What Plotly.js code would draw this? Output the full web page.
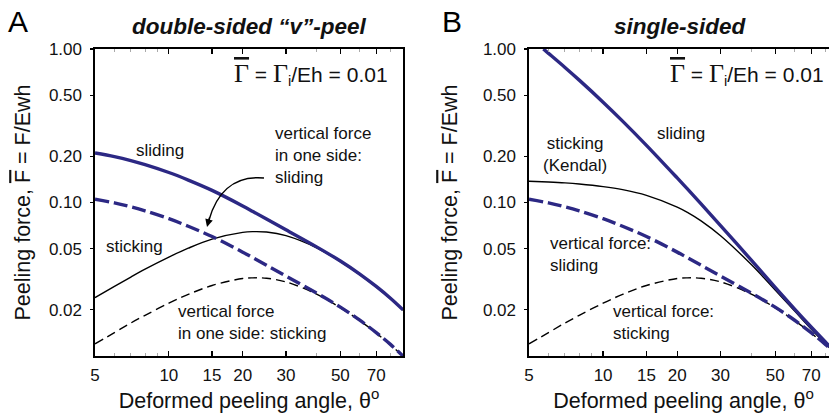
<!DOCTYPE html>
<html>
<head>
<meta charset="utf-8">
<script src="https://cdn.plot.ly/plotly-3.0.1.min.js"></script>
<style>
html,body{margin:0;padding:0;overflow:hidden;background:#fff;}
#chart{width:845px;height:420px;}
</style>
</head>
<body>
<div id="chart"></div>
<script>
// ---- data ----
const theta = [5, 6, 7, 8, 10, 12, 15, 20, 22, 25, 30, 40, 50, 60, 70, 80, 90];
// panel A: double-sided "v"-peel
const slidingA      = [0.210, 0.1988, 0.1874, 0.1764, 0.1568, 0.1400, 0.1200, 0.0950, 0.0874, 0.0780, 0.0664, 0.0514, 0.0416, 0.0342, 0.0284, 0.0238, 0.0200];
const stickingA     = [0.0240, 0.0284, 0.0327, 0.0368, 0.0441, 0.0504, 0.0577, 0.0639, 0.0646, 0.0642, 0.0608, 0.0507, 0.0412, 0.0339, 0.0282, 0.0236, 0.0199];
const vertSliding   = [0.105, 0.0994, 0.0937, 0.0882, 0.0784, 0.0700, 0.0600, 0.0475, 0.0437, 0.0390, 0.0332, 0.0257, 0.0208, 0.0171, 0.0142, 0.0119, 0.0100];
const vertSticking  = [0.0120, 0.0142, 0.0164, 0.0184, 0.0221, 0.0252, 0.0288, 0.0320, 0.0323, 0.0321, 0.0304, 0.0253, 0.0206, 0.0170, 0.0141, 0.0118, 0.0100];
// panel B: single-sided
const thetaSlideB   = [5.72, 6, 7, 8, 10, 12, 15, 20, 22, 25, 30, 40, 50, 60, 70, 80, 90];
const slidingB      = [1.0, 0.937, 0.758, 0.627, 0.4505, 0.3391, 0.2357, 0.1445, 0.1225, 0.0978, 0.0707, 0.0421, 0.0280, 0.0202, 0.01545, 0.01235, 0.0102];
const kendalB       = [0.1376, 0.1360, 0.1342, 0.1320, 0.1270, 0.1213, 0.1114, 0.0934, 0.0863, 0.0760, 0.0608, 0.0394, 0.0269, 0.0196, 0.0150, 0.0120, 0.0100];

const xTickVals = [5, 10, 15, 20, 30, 50, 70];
const xTickText = ['5', '10', '15', '20', '30', '50', '70'];
const yTickVals = [0.02, 0.05, 0.1, 0.2, 0.5, 1];
const yTickText = ['0.02', '0.05', '0.10', '0.20', '0.50', '1.00'];
const xMinor = [6, 7, 8, 9, 40, 60, 80];

// ---- styling ----
const W = 845, H = 420;
const ML = 95, MR = 838, MT = 49, MB = 356;   // plot area in pixels
const BLUE = '#2c2884';
const FONT = 'Liberation Sans, Arial, Helvetica, sans-serif';
const SERIF = 'Liberation Serif, Times New Roman, serif';
const px = v => (v - ML) / (MR - ML);   // pixel -> paper
const py = v => (MB - v) / (MB - MT);

function tr(x, y, xa, ya, color, width, dash, name) {
  return {x: x, y: y, xaxis: xa, yaxis: ya, type: 'scatter', mode: 'lines', name: name,
    line: {color: color, width: width, dash: dash, shape: 'spline', smoothing: 1},
    hoverinfo: 'skip', showlegend: false};
}

const data = [
  tr(theta, stickingA, 'x', 'y', '#000', 1.4, 'solid', 'sticking'),
  tr(theta, vertSticking, 'x', 'y', '#000', 1.4, '9px,5px', 'vertical force in one side: sticking'),
  tr(theta, vertSliding, 'x', 'y', BLUE, 3.4, '14px,5px', 'vertical force in one side: sliding'),
  tr(theta, slidingA, 'x', 'y', BLUE, 3.4, 'solid', 'sliding'),
  tr(theta, kendalB, 'x2', 'y2', '#000', 1.4, 'solid', 'sticking (Kendal)'),
  tr(theta, vertSticking, 'x2', 'y2', '#000', 1.4, '9px,5px', 'vertical force: sticking'),
  tr(theta, vertSliding, 'x2', 'y2', BLUE, 3.4, '14px,5px', 'vertical force: sliding'),
  tr(thetaSlideB, slidingB, 'x2', 'y2', BLUE, 3.4, 'solid', 'sliding')
];

const xr = [Math.log10(5), Math.log10(90)];
function xax(domain, anchor) {
  return {domain: domain, anchor: anchor, type: 'log', range: xr,
    tickmode: 'array', tickvals: xTickVals, ticktext: xTickText,
    ticks: 'inside', ticklen: 5, tickwidth: 1.2, tickcolor: '#000',
    minor: {tickmode: 'array', tickvals: xMinor, ticks: 'inside', ticklen: 3, tickcolor: '#aaa', tickwidth: 1},
    showline: true, linecolor: '#000', linewidth: 1.6, mirror: 'ticks',
    showgrid: false, zeroline: false, ticklabelstandoff: 3,
    tickfont: {family: FONT, size: 17, color: '#111'},
    title: {text: 'Deformed peeling angle, θ<sup>o</sup>', font: {family: FONT, size: 21.5, color: '#111'}, standoff: 9}};
}
function yax(domain, anchor, standoff) {
  return {domain: domain, anchor: anchor, type: 'log', range: [-2, 0],
    tickmode: 'array', tickvals: yTickVals, ticktext: yTickText,
    ticks: 'outside', ticklen: 3, tickwidth: 1.2, tickcolor: '#000',
    showline: true, linecolor: '#000', linewidth: 1.6, mirror: true,
    showgrid: false, zeroline: false, ticklabelstandoff: 5,
    tickfont: {family: FONT, size: 17, color: '#111'},
    title: {text: 'Peeling force, <span style="text-decoration:overline">F</span> = F/Ewh', font: {family: FONT, size: 21.5, color: '#111'}, standoff: standoff}};
}
// right-side inward ticks (mirror) for panel A
function yaxRight(overlay, anchor) {
  return {overlaying: overlay, anchor: anchor, side: 'right', type: 'log', range: [-2, 0],
    tickmode: 'array', tickvals: yTickVals, showticklabels: false,
    ticks: 'inside', ticklen: 4, tickwidth: 1.2, tickcolor: '#000',
    showline: false, showgrid: false, zeroline: false};
}

const ann = [];
function A(text, x, y, opts) {
  ann.push(Object.assign({text: text, x: px(x), y: py(y), xref: 'paper', yref: 'paper',
    showarrow: false, xanchor: 'left', yanchor: 'middle', align: 'left',
    font: {family: FONT, size: 17, color: '#111'}}, opts || {}));
}
// panel letters and titles
A('A', 18, 22, {xanchor: 'center', font: {family: FONT, size: 30, color: '#000'}});
A('B', 452, 22, {xanchor: 'center', font: {family: FONT, size: 30, color: '#000'}});
A('<b><i>double-sided “v”-peel</i></b>', 249, 27, {xanchor: 'center', font: {family: FONT, size: 22.5, color: '#111'}});
A('<b><i>single-sided</i></b>', 680, 27, {xanchor: 'center', font: {family: FONT, size: 22.5, color: '#111'}});
const gam = '<span style="font-family:' + SERIF + ';font-size:26px;text-decoration:overline">Γ</span> = ' +
            '<span style="font-family:' + SERIF + ';font-size:26px">Γ</span><sub>i</sub>/Eh = 0.01';
A(gam, 390, 74, {xanchor: 'right', font: {family: FONT, size: 21, color: '#111'}});
A(gam, 826, 74, {xanchor: 'right', font: {family: FONT, size: 21, color: '#111'}});
// panel A labels
A('sliding', 134, 150);
A('vertical force<br>in one side:<br>sliding', 273, 155);
A('sticking', 104, 246);
A('vertical force<br>in one side: sticking', 176, 322);
// panel B labels
A('sliding', 655, 133);
A('sticking<br>(Kendal)', 575, 154, {xanchor: 'center', align: 'center'});
A('vertical force:<br>sliding', 548, 254);
A('vertical force:<br>sticking', 611, 322);
// arrowhead of the curved pointer
ann.push({text: '', x: px(207), y: py(227), xref: 'paper', yref: 'paper', showarrow: true,
  ax: 3, ay: -11, arrowhead: 2, arrowsize: 1.1, arrowwidth: 1.4, arrowcolor: '#000'});

const shapes = [{type: 'path', xref: 'paper', yref: 'paper',
  path: `M ${px(264)} ${py(178)} C ${px(232)} ${py(175)}, ${px(216)} ${py(195)}, ${px(209)} ${py(220)}`,
  line: {color: '#000', width: 1.4}}];

const layout = {
  width: W, height: H,
  margin: {l: ML, r: W - MR, t: MT, b: H - MB},
  paper_bgcolor: '#fff', plot_bgcolor: 'rgba(0,0,0,0)',
  showlegend: false,
  xaxis: xax([0, (403 - ML) / (MR - ML)], 'y'),
  yaxis: yax([0, 1], 'x', 12),
  xaxis2: xax([(529 - ML) / (MR - ML), 1], 'y2'),
  yaxis2: yax([0, 1], 'x2', 19),
  yaxis3: yaxRight('y', 'x'),
  annotations: ann,
  shapes: shapes
};

Plotly.newPlot('chart', data, layout, {displayModeBar: false, staticPlot: true});
</script>
</body>
</html>
